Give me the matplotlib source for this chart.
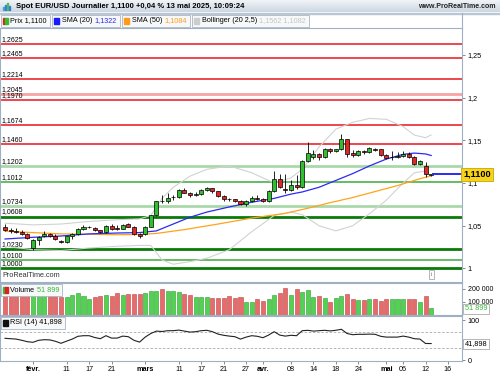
import matplotlib
matplotlib.use("Agg")
import matplotlib.pyplot as plt
from matplotlib.patches import Rectangle
import numpy as np
import pandas as pd

plt.rcParams['font.family'] = ['Liberation Sans', 'DejaVu Sans']

# daily candles, 27 Jan -> 13 May 2025
dates = pd.bdate_range('2025-01-27', '2025-05-13')
opens = [1.0485, 1.0446, 1.0440, 1.0432, 1.0405, 1.0240, 1.0335, 1.0380, 1.0400, 1.0385,
         1.0325, 1.0310, 1.0375, 1.0400, 1.0465, 1.0482, 1.0478, 1.0446, 1.0422, 1.0500,
         1.0475, 1.0465, 1.0515, 1.0490, 1.0400, 1.0400, 1.0485, 1.0622, 1.0795, 1.0785,
         1.0835, 1.0838, 1.0915, 1.0888, 1.0860, 1.0875, 1.0920, 1.0937, 1.0905, 1.0852,
         1.0815, 1.0810, 1.0790, 1.0752, 1.0795, 1.0830, 1.0818, 1.0790, 1.0905, 1.1045,
         1.0925, 1.0918, 1.0975, 1.0955, 1.1255, 1.1300, 1.1338, 1.1300, 1.1395, 1.1372,
         1.1392, 1.1512, 1.1355, 1.1328, 1.1375, 1.1362, 1.1400, 1.1392, 1.1328, 1.1300,
         1.1305, 1.1310, 1.1345, 1.1305, 1.1225, 1.1200, 1.1090]
highs = [1.0515, 1.0470, 1.0468, 1.0450, 1.0420, 1.0345, 1.0385, 1.0440, 1.0410, 1.0400,
         1.0335, 1.0380, 1.0410, 1.0470, 1.0505, 1.0500, 1.0490, 1.0455, 1.0505, 1.0525,
         1.0505, 1.0525, 1.0528, 1.0495, 1.0410, 1.0495, 1.0630, 1.0795, 1.0855, 1.0888,
         1.0860, 1.0935, 1.0945, 1.0895, 1.0895, 1.0925, 1.0955, 1.0940, 1.0910, 1.0860,
         1.0830, 1.0815, 1.0800, 1.0805, 1.0845, 1.0855, 1.0830, 1.0920, 1.1145, 1.1110,
         1.1110, 1.1030, 1.1095, 1.1270, 1.1475, 1.1390, 1.1355, 1.1405, 1.1410, 1.1400,
         1.1575, 1.1520, 1.1390, 1.1390, 1.1385, 1.1420, 1.1410, 1.1395, 1.1335, 1.1380,
         1.1360, 1.1370, 1.1360, 1.1315, 1.1270, 1.1250, 1.1108]
lows = [1.0440, 1.0420, 1.0412, 1.0395, 1.0350, 1.0212, 1.0275, 1.0370, 1.0370, 1.0335,
        1.0300, 1.0300, 1.0350, 1.0390, 1.0455, 1.0470, 1.0440, 1.0410, 1.0415, 1.0455,
        1.0450, 1.0460, 1.0480, 1.0395, 1.0360, 1.0390, 1.0480, 1.0610, 1.0765, 1.0770,
        1.0800, 1.0830, 1.0880, 1.0835, 1.0850, 1.0865, 1.0910, 1.0885, 1.0840, 1.0795,
        1.0795, 1.0780, 1.0740, 1.0735, 1.0775, 1.0800, 1.0775, 1.0775, 1.0900, 1.0945,
        1.0880, 1.0905, 1.0930, 1.0945, 1.1245, 1.1280, 1.1265, 1.1290, 1.1350, 1.1360,
        1.1385, 1.1305, 1.1305, 1.1315, 1.1345, 1.1350, 1.1375, 1.1310, 1.1275, 1.1265,
        1.1295, 1.1300, 1.1290, 1.1215, 1.1210, 1.1065, 1.1085]
closes = [1.0455, 1.0440, 1.0432, 1.0405, 1.0362, 1.0335, 1.0372, 1.0400, 1.0385, 1.0345,
          1.0310, 1.0375, 1.0400, 1.0465, 1.0490, 1.0485, 1.0448, 1.0422, 1.0500, 1.0462,
          1.0465, 1.0512, 1.0490, 1.0398, 1.0380, 1.0485, 1.0622, 1.0790, 1.0785, 1.0830,
          1.0838, 1.0915, 1.0888, 1.0855, 1.0872, 1.0920, 1.0937, 1.0905, 1.0852, 1.0815,
          1.0810, 1.0790, 1.0752, 1.0795, 1.0830, 1.0815, 1.0790, 1.0905, 1.1045, 1.0955,
          1.0915, 1.0978, 1.0955, 1.1255, 1.1355, 1.1340, 1.1300, 1.1395, 1.1370, 1.1392,
          1.1512, 1.1345, 1.1330, 1.1375, 1.1362, 1.1405, 1.1390, 1.1328, 1.1292, 1.1305,
          1.1312, 1.1345, 1.1305, 1.1225, 1.1255, 1.1110, 1.1100]
volumes = [159000, 151000, 159000, 151000, 159000, 159000, 159000, 156000, 149000, 149000,
           141000, 138000, 156000, 167000, 149000, 120000, 136000, 144000, 151000, 149000,
           167000, 151000, 159000, 162000, 164000, 169000, 187000, 187000, 200000, 185000,
           185000, 174000, 164000, 156000, 141000, 138000, 136000, 131000, 131000, 131000,
           144000, 131000, 136000, 97000, 97000, 121000, 110000, 123000, 151000, 167000,
           205000, 151000, 200000, 174000, 190000, 136000, 144000, 128000, 97000, 128000,
           144000, 159000, 123000, 115000, 115000, 123000, 123000, 110000, 123000, 123000,
           123000, 123000, 123000, 123000, 97000, 144000, 51899]
rsi = [55, 54, 53, 50, 46.5, 45, 50, 51.5, 51, 47.5,
       42.5, 48, 53, 60, 61.5, 61.5, 57, 54, 61.5, 55.5,
       55.5, 60.5, 59, 50, 45.5, 58, 67, 73, 72, 74,
       74, 75.5, 73, 70.5, 71.5, 74, 75, 71.5, 65.5, 62.5,
       60.5, 59, 53, 58, 61.5, 60, 56.5, 63, 71.5, 63,
       60.5, 62.5, 61.5, 74, 75, 73, 74, 75, 73.5, 75,
       77.5, 67, 64, 65, 65, 65.5, 65, 60, 58, 58,
       58, 60.5, 58, 54, 53, 42, 41.898]

# indicators (candle index -> value)
sma20_idx = [0, 5, 10, 15, 20, 24, 27, 30, 33, 36, 40, 44, 48, 51, 53, 56, 59, 62, 65, 68, 71, 73, 75, 76]
sma20_val = [1.0345, 1.0365, 1.0380, 1.0405, 1.0415, 1.0420, 1.0440, 1.0520, 1.0600, 1.0660,
             1.0720, 1.0775, 1.0820, 1.0870, 1.0895, 1.0950, 1.1030, 1.1110, 1.1200, 1.1280,
             1.1335, 1.1350, 1.1340, 1.1322]
sma50_idx = [0, 10, 20, 24, 27, 32, 38, 44, 50, 54, 58, 62, 66, 70, 74, 76]
sma50_val = [1.0435, 1.0405, 1.0395, 1.0398, 1.0410, 1.0455, 1.0520, 1.0590, 1.0645, 1.0705,
             1.0770, 1.0830, 1.0900, 1.0970, 1.1050, 1.1084]
boll_idx = [0, 5, 10, 15, 20, 24, 26, 28, 30, 33, 36, 40, 44, 48, 51, 53, 56, 59, 62, 65, 68, 71, 73, 75, 76]
boll_up = [1.0530, 1.0510, 1.0520, 1.0550, 1.0570, 1.0580, 1.0620, 1.0820, 1.0950, 1.1080,
           1.1160, 1.1200, 1.1120, 1.1000, 1.1060, 1.1160, 1.1420, 1.1630, 1.1710, 1.1755,
           1.1745, 1.1660, 1.1560, 1.1530, 1.1562]
boll_dn = [1.0260, 1.0220, 1.0210, 1.0240, 1.0260, 1.0270, 1.0270, 1.0100, 1.0050, 1.0080,
           1.0120, 1.0220, 1.0430, 1.0620, 1.0660, 1.0630, 1.0500, 1.0440, 1.0500, 1.0640,
           1.0800, 1.1000, 1.1120, 1.1140, 1.1082]

# horizontal support / resistance levels
level_vals = [1.2625, 1.2465, 1.2214, 1.2045, 1.1970, 1.1674, 1.1460,
              1.1202, 1.1012, 1.0734, 1.0608, 1.0230, 1.0100, 1.0000]
level_labels = ['1,2625', '1,2465', '1,2214', '1,2045', '1,1970', '1,1674', '1,1460',
                '1,1202', '1,1012', '1,0734', '1,0608', '1,0230', '1,0100', '1,0000']
level_kind = ['res', 'res', 'res', 'res_l', 'res', 'res', 'res',
              'sup_l', 'sup', 'sup_l', 'sup_s', 'sup_s', 'sup', 'sup_s']

tick_dates = ['2025-02-03', '2025-02-11', '2025-02-17', '2025-02-21', '2025-03-03', '2025-03-11',
              '2025-03-17', '2025-03-21', '2025-03-27', '2025-04-01', '2025-04-08', '2025-04-14',
              '2025-04-18', '2025-04-24', '2025-05-01', '2025-05-06', '2025-05-12', '2025-05-16']
tick_labels = ['févr.', '11', '17', '21', 'mars', '11', '17', '21', '27', 'avr.',
               '08', '14', '18', '24', 'mai', '06', '12', '16']

GREEN = '#2fbf2f'
RED = '#e32626'
level_style = {'res': ('#e8141c', 1.1), 'res_l': ('#f5a3a3', 2.0),
               'sup': ('#3caa3c', 1.1), 'sup_l': ('#a9d8a9', 2.0), 'sup_s': ('#0b7a0b', 2.0)}

x = np.arange(len(dates))
o = np.array(opens); c = np.array(closes)
up = c >= o
XL = (-0.89, 81.5)

fig = plt.figure(figsize=(5, 3.75), dpi=100)
W = 462 / 500
ax = fig.add_axes([0.0, 1 - 282 / 375, W, 254 / 375])
axv = fig.add_axes([0.0, 1 - 315 / 375, W, 32 / 375])
axr = fig.add_axes([0.0, 1 - 361 / 375, W, 45 / 375])

frame = '#9fb0c2'
for a in (ax, axv, axr):
    a.set_xlim(*XL)
    for s in a.spines.values():
        s.set_color(frame)
        s.set_linewidth(0.8)
    a.yaxis.tick_right()
    a.tick_params(axis='y', length=2.5, width=0.6, color='#777777', labelsize=5.2, pad=1.5)
    a.tick_params(axis='x', length=0)
    a.set_xticks([])

# --- main price panel
ax.set_ylim(0.98421, 1.28129)
for v, lab, k in zip(level_vals, level_labels, level_kind):
    col, lw = level_style[k]
    ax.axhline(v, color=col, lw=lw, zorder=1)
    ax.text(-0.6, v + 0.0012, lab, fontsize=5, va='bottom', ha='left', zorder=2)

ax.plot(boll_idx, boll_up, color='#d2d2d2', lw=0.8, zorder=2)
ax.plot(boll_idx, boll_dn, color='#d2d2d2', lw=0.8, zorder=2)
ax.plot(sma50_idx, sma50_val, color='#ffa31a', lw=0.9, zorder=3)
ax.plot(sma20_idx, sma20_val, color='#2b2bf0', lw=0.9, zorder=3)

ax.vlines(x, lows, highs, color='black', lw=0.6, zorder=4)
body_lo = np.minimum(o, c)
body_h = np.maximum(np.abs(c - o), 0.0003)
ax.bar(x, body_h, bottom=body_lo, width=0.72, color=np.where(up, GREEN, RED),
       edgecolor='black', linewidth=0.5, zorder=5)

ax.plot([x[-1] + 0.4, XL[1]], [closes[-1], closes[-1]], color='#2b2bf0', lw=1.4, zorder=6)
ax.set_yticks([1.0, 1.05, 1.1, 1.15, 1.2, 1.25])
ax.set_yticklabels(['1', '1,05', '1,1', '1,15', '1,2', '1,25'])
ax.text(1.003, closes[-1], '1,1100', transform=ax.get_yaxis_transform(), fontsize=6.6,
        fontweight='bold', va='center', ha='left', zorder=10, clip_on=False,
        bbox=dict(boxstyle='square,pad=0.22', fc='#f7d31a', ec='#c9a400', lw=0.6))
ax.text(0.005, 0.012, 'ProRealTime.com', transform=ax.transAxes, fontsize=5.2,
        va='bottom', ha='left', color='#333333')
ax.text(0.934, 0.02, 'i', transform=ax.transAxes, fontsize=4, va='bottom', ha='center',
        color='#666666', bbox=dict(boxstyle='square,pad=0.3', fc='white', ec='#999999', lw=0.5))

# --- volume panel
axv.set_ylim(0, 246000)
axv.bar(x, volumes, width=0.72, color=np.where(up, '#52d152', '#e86b6b'),
        edgecolor=np.where(up, '#2e9e2e', '#b94545'), linewidth=0.4)
axv.set_yticks([100000, 200000])
axv.set_yticklabels(['100 000', '200 000'], fontsize=5)
axv.text(1.006, volumes[-1] - 4000, '51 899', transform=axv.get_yaxis_transform(), fontsize=5.3,
         color='#35b935', va='center', ha='left', zorder=10, clip_on=False,
         bbox=dict(boxstyle='square,pad=0.2', fc='white', ec='#999999', lw=0.5))

# --- RSI panel
axr.set_ylim(-1.75, 110.75)
axr.axhline(70, color='#aaaaaa', lw=0.6, ls=(0, (3, 2)))
axr.axhline(30, color='#aaaaaa', lw=0.6, ls=(0, (3, 2)))
axr.plot(x, rsi, color='#222222', lw=0.8)
axr.set_yticks([0, 50, 100])
axr.set_yticklabels(['0', '', '100'], fontsize=5.2)
axr.text(1.006, rsi[-1], '41,898', transform=axr.get_yaxis_transform(), fontsize=5.3,
         color='black', va='center', ha='left', zorder=10, clip_on=False,
         bbox=dict(boxstyle='square,pad=0.2', fc='white', ec='#999999', lw=0.5))

pos = [dates.get_loc(pd.Timestamp(d)) if pd.Timestamp(d) in dates
       else len(dates) - 1 + np.busday_count('2025-05-13', d) for d in tick_dates]
axr.set_xticks(pos)
axr.set_xticklabels(tick_labels, fontsize=5.2)
axr.tick_params(axis='x', length=2.5, width=0.6, color='#777777', pad=1.0)
for t in axr.get_xticklabels():
    if not t.get_text().isdigit():
        t.set_fontweight('bold')

# --- header and legend strip (pixel coordinates)
ov = fig.add_axes([0, 0, 1, 1], zorder=20)
ov.set_xlim(0, 500)
ov.set_ylim(375, 0)
ov.axis('off')
ov.patch.set_alpha(0)
grad = np.linspace(0, 1, 20).reshape(-1, 1)
ov.imshow(grad, cmap=matplotlib.colors.LinearSegmentedColormap.from_list('h', ['#f3f6f9', '#cdd7e2']),
          extent=(0, 500, 12.5, 0), aspect='auto', zorder=0)
ov.set_xlim(0, 500)
ov.set_ylim(375, 0)
for i, hgt in enumerate([3, 5, 7, 4]):
    ov.add_patch(Rectangle((3 + i * 2, 10 - hgt), 1.2, hgt, color=['#4aa0e0', '#2f80d0', '#57b857', '#2f80d0'][i]))
ov.text(16, 6.5, 'Spot EUR/USD Journalier 1,1100 +0,04 % 13 mai 2025, 10:09:24',
        fontsize=5.5, fontweight='bold', va='center', ha='left')
ov.text(496, 6.5, 'www.ProRealTime.com', fontsize=5, fontweight='bold', va='center', ha='right',
        color='#222222')
ov.add_patch(Rectangle((0, 12.5), 500, 1.2, color='#b9c6d3'))
ov.plot([462, 462], [13, 28], color=frame, lw=0.8)

rend = fig.canvas.get_renderer()


def pieces(x0, y0, parts, size=5.2):
    for s, col in parts:
        t = ov.text(x0, y0, s, color=col, fontsize=size, va='center', ha='left')
        x0 += t.get_window_extent(renderer=rend).width
    return x0


def legend_box(x0, y0, parts, sq, h=12, size=5.2):
    x_end = pieces(x0 + 10, y0 + h / 2, parts, size)
    ov.add_patch(Rectangle((x0, y0), x_end - x0 + 3, h, fc='#f7f8fa', ec='#aab6c2', lw=0.6, zorder=0.5))
    if isinstance(sq, tuple):
        ov.add_patch(Rectangle((x0 + 2, y0 + 3), 2.5, 6, color=sq[0]))
        ov.add_patch(Rectangle((x0 + 4.5, y0 + 3), 2.5, 6, color=sq[1]))
    else:
        ov.add_patch(Rectangle((x0 + 2, y0 + 3), 5, 6, color=sq))
    return x_end + 5


xx = legend_box(0.5, 14.5, [('Prix 1,1100', 'black')], ('#e02020', '#2fbf2f'))
xx = legend_box(xx, 14.5, [('SMA (20) ', 'black'), ('1,1322', '#2b2bf0')], '#1a1aff')
xx = legend_box(xx, 14.5, [('SMA (50) ', 'black'), ('1,1084', '#ff9a1a')], '#ff9a1a')
legend_box(xx, 14.5, [('Bollinger (20 2,5) ', 'black'), ('1,1562 1,1082', '#c4c4c4')], '#cccccc')
legend_box(0.5, 284, [('Volume ', 'black'), ('51 899', '#35b935')], ('#2fbf2f', '#e02020'))
legend_box(0.5, 317, [('RSI (14) 41,898', 'black')], '#111111')

fig.savefig('out.png', dpi=100)
